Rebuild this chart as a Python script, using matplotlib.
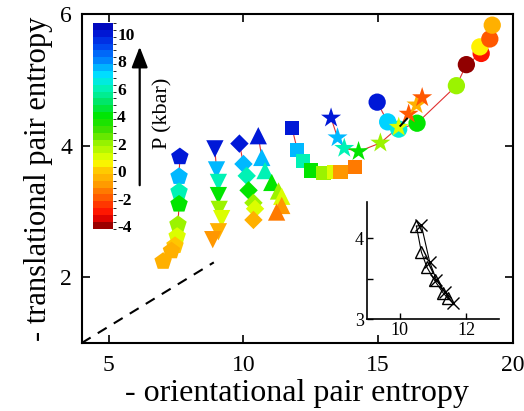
import numpy as np
import matplotlib
matplotlib.use("Agg")
import matplotlib.pyplot as plt
from matplotlib.colors import LinearSegmentedColormap, ListedColormap, BoundaryNorm, Normalize
from matplotlib.cm import ScalarMappable

plt.rcParams['font.family'] = ['Liberation Serif', 'DejaVu Serif']

# ---------------- data ----------------
pent_x = [7.64, 7.61, 7.61, 7.61, 7.57, 7.54, 7.46, 7.33, 7.02]
pent_y = [3.83, 3.53, 3.30, 3.11, 2.80, 2.62, 2.48, 2.40, 2.24]
pent_p = [10, 7.5, 6, 4, 2, 1, 0, -0.5, -0.5]

vtri_x = [8.94, 9.00, 9.07, 9.07, 9.10, 9.19, 9.07, 8.86]
vtri_y = [3.95, 3.63, 3.44, 3.24, 3.03, 2.89, 2.69, 2.57]
vtri_p = [10, 7.5, 6, 4, 2, 1, -0.5, -1]

diam_x = [9.85, 10.00, 10.12, 10.19, 10.37, 10.43, 10.37]
diam_y = [4.03, 3.72, 3.54, 3.32, 3.13, 3.04, 2.87]
diam_p = [10, 7.5, 6, 4, 2, 1, -0.5]

utri_x = [10.55, 10.68, 10.80, 11.05, 11.30, 11.42, 11.42, 11.23]
utri_y = [4.15, 3.82, 3.62, 3.44, 3.31, 3.23, 3.09, 2.99]
utri_p = [10, 7.5, 6, 4, 2, 1, -1, -1.5]

sq_x = [11.80, 12.00, 12.22, 12.50, 12.97, 13.35, 13.60, 14.14]
sq_y = [4.27, 3.93, 3.77, 3.62, 3.58, 3.60, 3.60, 3.67]
sq_p = [10, 7.5, 6, 4, 2, 1, -1, -1.5]

star_x = [13.25, 13.49, 13.74, 14.27, 15.08, 15.76, 16.13, 16.42, 16.63]
star_y = [4.42, 4.12, 3.96, 3.91, 4.04, 4.28, 4.48, 4.62, 4.73]
star_p = [10, 7.5, 6, 4, 2, 1, -2, -0.5, -2]

circ_x = [14.96, 15.35, 15.76, 16.44, 17.90, 18.27, 18.82, 18.77, 19.14, 19.23]
circ_y = [4.66, 4.36, 4.25, 4.34, 4.91, 5.23, 5.40, 5.50, 5.62, 5.83]
circ_p = [10, 7.2, 6.5, 4, 2, -4, -3, 0.5, -2, -0.5]

guide_x = [4.0, 8.9]
guide_y = [1.0, 2.225]
seg_x = [15.82, 16.07]
seg_y = [4.30, 4.41]

ins_tri_x = [10.50, 10.65, 10.82, 11.05, 11.30, 11.45]
ins_tri_y = [4.15, 3.83, 3.64, 3.48, 3.33, 3.26]
ins_x_x = [10.65, 10.90, 11.10, 11.35, 11.60]
ins_x_y = [4.16, 3.71, 3.49, 3.34, 3.20]

cbar_ticks = [-4, -2, 0, 2, 4, 6, 8, 10]

# ---------------- colormap ----------------
vmin, vmax = -4.2, 10.8
nodes = [(-4.2, (0.45, 0.0, 0.0)), (-3.6, (0.85, 0.0, 0.0)), (-3.0, (1.0, 0.08, 0.0)),
         (-2.0, (1.0, 0.35, 0.0)), (-1.0, (1.0, 0.6, 0.0)), (0.0, (1.0, 0.78, 0.0)),
         (0.5, (1.0, 0.95, 0.0)), (1.0, (0.85, 1.0, 0.0)), (2.0, (0.6, 0.95, 0.0)),
         (3.0, (0.25, 0.88, 0.0)), (4.0, (0.0, 0.9, 0.0)), (5.0, (0.0, 0.9, 0.4)),
         (6.0, (0.0, 0.95, 0.7)), (7.0, (0.0, 0.9, 1.0)), (8.0, (0.0, 0.55, 1.0)),
         (9.0, (0.0, 0.3, 0.95)), (10.0, (0.0, 0.1, 0.85)), (10.8, (0.0, 0.0, 0.7))]
cmap_c = LinearSegmentedColormap.from_list(
    'pk', [((v - vmin) / (vmax - vmin), c) for v, c in nodes])
norm = Normalize(vmin, vmax)
bounds = np.arange(vmin, vmax + 0.01, 0.5)
cmap_d = ListedColormap([cmap_c(norm(b + 0.25)) for b in bounds[:-1]])
bnorm = BoundaryNorm(bounds, cmap_d.N)

# ---------------- figure ----------------
fig = plt.figure(figsize=(5.24, 4.11), dpi=100)
ax = fig.add_axes([0.156, 0.1655, 0.823, 0.8005])

series = [
    (pent_x, pent_y, pent_p, 'p', 175),
    (vtri_x, vtri_y, vtri_p, 'v', 155),
    (diam_x, diam_y, diam_p, 'D', 88),
    (utri_x, utri_y, utri_p, '^', 155),
    (sq_x, sq_y, sq_p, 's', 105),
    (circ_x, circ_y, circ_p, 'o', 155),
    (star_x, star_y, star_p, '*', 230),
]
for xs, ys, ps, m, s in series:
    ax.plot(xs, ys, color='#e03030', lw=0.8, zorder=2)
for xs, ys, ps, m, s in series:
    ax.scatter(xs, ys, c=[cmap_c(norm(p)) for p in ps], marker=m, s=s,
               edgecolors='none', zorder=3)

ax.plot(guide_x, guide_y, color='black', lw=1.5, ls=(0, (5, 4)), zorder=1)
ax.plot(seg_x, seg_y, color='black', lw=1.4, zorder=4)

ax.set_xlim(4, 20)
ax.set_ylim(1, 6)
ax.set_xticks([5, 10, 15, 20])
ax.set_yticks([2, 4, 6])
ax.tick_params(direction='in', length=6, width=1.2, top=True, right=True,
               labelsize=17)
ax.tick_params(axis='x', pad=9)
ax.tick_params(axis='y', pad=7)
for sp in ax.spines.values():
    sp.set_linewidth(1.5)
ax.set_xlabel('- orientational pair entropy', fontsize=23, labelpad=2)
ax.set_ylabel('- translational pair entropy', fontsize=22, labelpad=5)

# ---------------- colorbar ----------------
cax = fig.add_axes([0.1775, 0.4435, 0.038, 0.5005])
sm = ScalarMappable(norm=bnorm, cmap=cmap_d)
cb = fig.colorbar(sm, cax=cax, ticks=cbar_ticks)
cb.outline.set_visible(False)
cax.tick_params(length=0, pad=3)
cax.set_yticklabels([str(t) for t in cbar_ticks], fontweight='bold', fontsize=12.5)
cax.set_ylim(vmin, vmax)

fig.add_artist(matplotlib.patches.FancyArrowPatch(
    (139.7 / 524, 1 - 188 / 411), (139.7 / 524, 1 - 44 / 411),
    transform=fig.transFigure, arrowstyle='-|>,head_length=0.9,head_width=0.35',
    mutation_scale=14, color='black', lw=1.6))
fig.text(163 / 524, 1 - 113 / 411, 'P (kbar)', rotation=90, fontsize=16,
         ha='center', va='center')

# ---------------- inset ----------------
iax = fig.add_axes([0.700, 0.223, 0.2525, 0.286])
iax.plot(ins_tri_x, ins_tri_y, color='black', lw=0.8, marker='^', ms=8,
         mfc='none', mec='black', mew=1.0)
iax.plot(ins_x_x, ins_x_y, color='black', lw=0.8, marker='x', ms=8, mew=1.0)
iax.plot([ins_tri_x[0], ins_x_x[0]], [ins_tri_y[0], ins_x_y[0]], color='black', lw=0.8)
iax.set_xlim(9, 13)
iax.set_ylim(3, 4.45)
iax.set_xticks([10, 12])
iax.set_yticks([3, 4])
iax.set_yticks([3.5], minor=True)
iax.spines['top'].set_visible(False)
iax.spines['right'].set_visible(False)
for sp in iax.spines.values():
    sp.set_linewidth(1.2)
iax.patch.set_alpha(0)
iax.tick_params(which='both', direction='in', length=4, width=1.0, labelsize=13, pad=2)

fig.savefig('out.png', dpi=100)
